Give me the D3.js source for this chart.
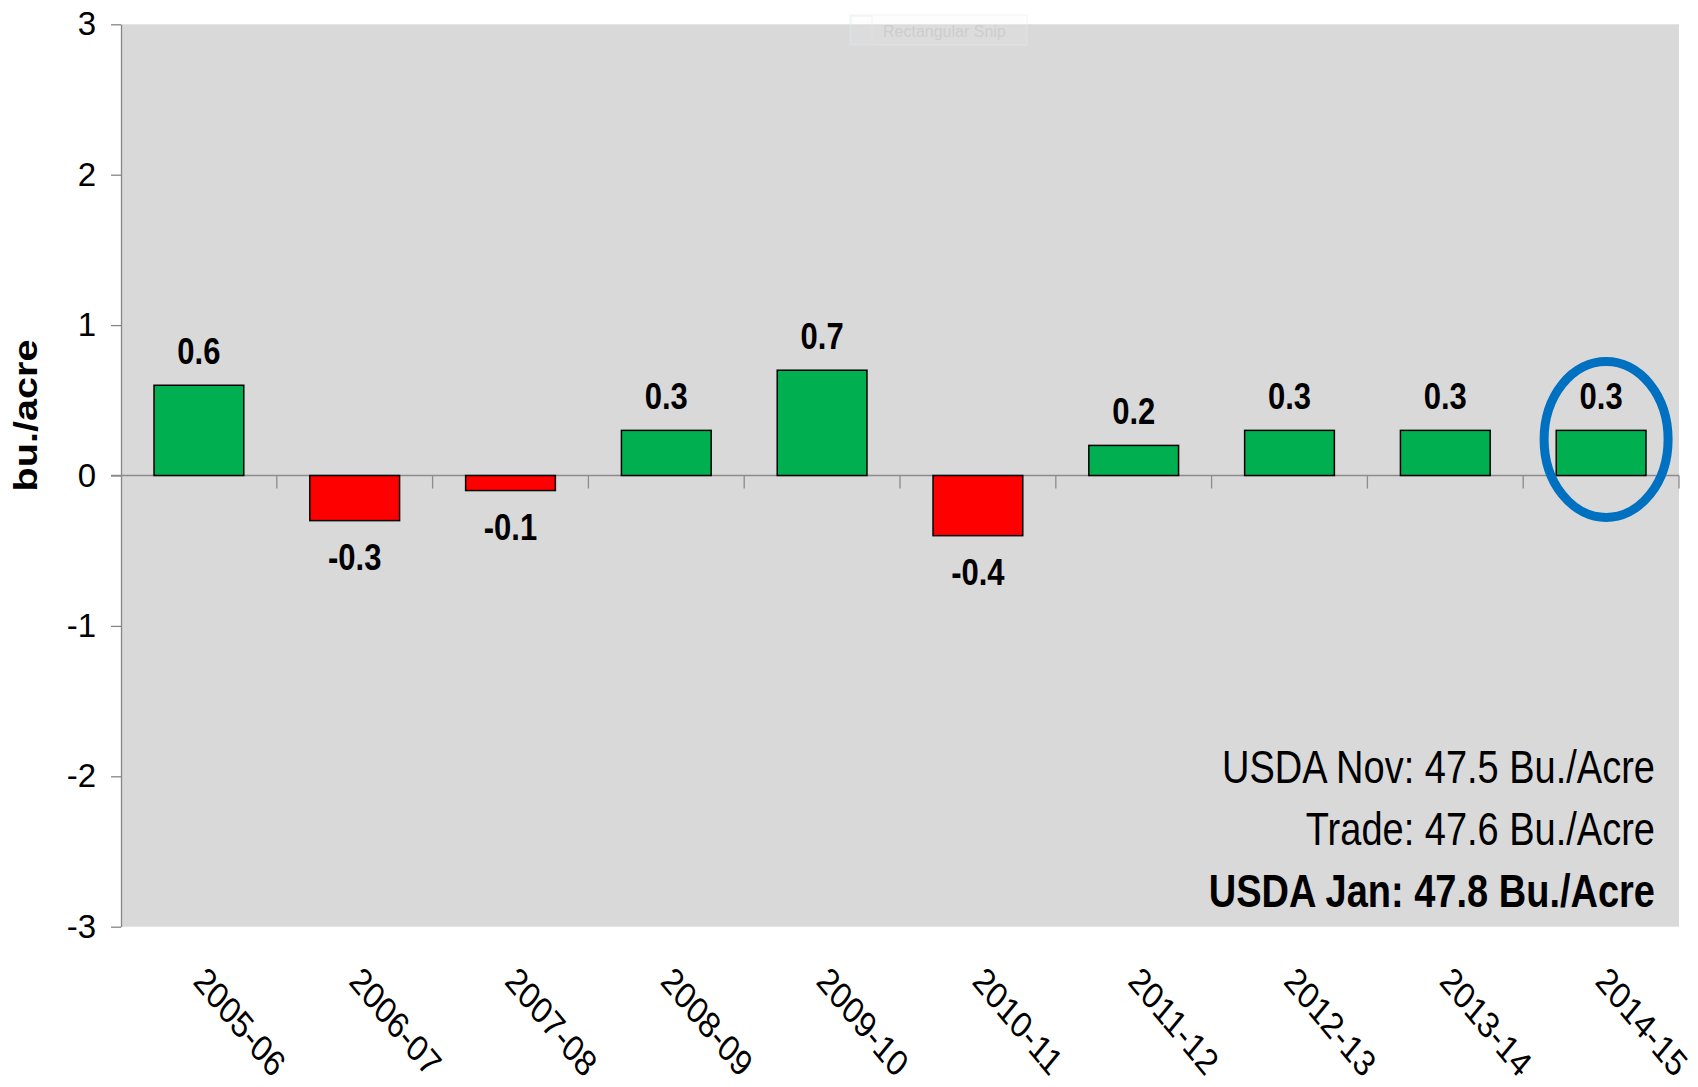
<!DOCTYPE html>
<html>
<head>
<meta charset="utf-8">
<script src="https://cdn.jsdelivr.net/npm/d3@7"></script>
<style>
  body { margin: 0; background: #fff; }
  svg { display: block; font-family: "Liberation Sans", Arial, sans-serif; }
</style>
</head>
<body>
<svg id="chart"></svg>
<script>
// Soybean yield change, USDA Jan vs Nov estimate (bu./acre)
const seasons = ['2005-06', '2006-07', '2007-08', '2008-09', '2009-10', '2010-11', '2011-12', '2012-13', '2013-14', '2014-15'];
const yieldChange = [0.6, -0.3, -0.1, 0.3, 0.7, -0.4, 0.2, 0.3, 0.3, 0.3];
const yTickValues = [-3, -2, -1, 0, 1, 2, 3];
const estimateLines = ['USDA Nov: 47.5 Bu./Acre', 'Trade: 47.6 Bu./Acre', 'USDA Jan: 47.8 Bu./Acre'];
const boldEstimate = 'USDA Jan: 47.8 Bu./Acre';
const highlightSeason = '2014-15';

class YieldChangeChart {
  constructor(_config, _data) {
    this.config = {
      parentElement: _config.parentElement,
      containerWidth: _config.containerWidth || 1698,
      containerHeight: _config.containerHeight || 1087,
      margin: _config.margin || { top: 24.3, right: 19, bottom: 160.3, left: 121 },
      stretch: _config.stretch || 1.2 // the source picture is stretched vertically
    }
    this.data = _data;
    this.initVis();
  }

  initVis() {
    let vis = this;

    vis.width = vis.config.containerWidth - vis.config.margin.left - vis.config.margin.right;
    vis.height = vis.config.containerHeight - vis.config.margin.top - vis.config.margin.bottom;

    vis.xScale = d3.scaleBand()
      .domain(seasons)
      .range([0, vis.width])
      .paddingInner(0.424)
      .paddingOuter(0.212);

    vis.yScale = d3.scaleLinear()
      .domain([-3, 3])
      .range([vis.height, 0]);

    vis.svg = d3.select(vis.config.parentElement)
      .attr('width', vis.config.containerWidth)
      .attr('height', vis.config.containerHeight);

    vis.chart = vis.svg.append('g')
      .attr('transform', `translate(${vis.config.margin.left},${vis.config.margin.top})`);

    // plot background
    vis.chart.append('rect')
      .attr('width', vis.width)
      .attr('height', vis.height)
      .attr('fill', '#d9d9d9');

    // faint screenshot leftover at the top
    const snip = vis.svg.append('g').attr('opacity', 0.55);
    snip.append('rect')
      .attr('x', 850).attr('y', 15).attr('width', 177).attr('height', 30)
      .attr('fill', '#f4f6f8').attr('fill-opacity', 0.25)
      .attr('stroke', '#e6ecf2');
    snip.append('rect')
      .attr('x', 851).attr('y', 16).attr('width', 21).attr('height', 28)
      .attr('fill', 'none').attr('stroke', '#e0e6ee');
    snip.append('text')
      .attr('x', 883).attr('y', 37)
      .attr('font-size', 16)
      .attr('fill', '#c4c4c4')
      .text('Rectangular Snip');

    vis.yAxis = d3.axisLeft(vis.yScale)
      .tickValues(yTickValues)
      .tickSize(10)
      .tickSizeOuter(0)
      .tickPadding(15)
      .tickFormat(d => String(d));

    vis.xAxis = d3.axisBottom(vis.xScale)
      .tickSize(0)
      .tickSizeOuter(0);

    vis.yAxisGroup = vis.chart.append('g').attr('class', 'axis y-axis');
    vis.xAxisGroup = vis.chart.append('g').attr('class', 'axis x-axis')
      .attr('transform', `translate(0,${vis.height})`);

    vis.svg.append('text')
      .attr('class', 'axis-title')
      .attr('transform', `translate(37,${vis.config.margin.top + vis.height / 2 - 60}) scale(1,${vis.config.stretch}) rotate(-90)`)
      .attr('text-anchor', 'middle')
      .attr('font-size', 33)
      .attr('font-weight', 'bold')
      .attr('fill', '#000')
      .text('bu./acre');
  }

  renderVis() {
    let vis = this;
    const k = vis.config.stretch;
    const y0 = vis.yScale(0);

    vis.yAxisGroup.call(vis.yAxis);
    vis.yAxisGroup.select('.domain').attr('stroke', '#868686').attr('stroke-width', 1.3);
    vis.yAxisGroup.selectAll('.tick line').attr('stroke', '#868686').attr('stroke-width', 1.3);
    vis.yAxisGroup.selectAll('.tick text')
      .attr('font-size', 33)
      .attr('fill', '#000')
      .attr('font-family', '"Liberation Sans", Arial, sans-serif');

    // zero line with category boundary ticks
    vis.chart.append('line')
      .attr('x1', -10).attr('x2', vis.width)
      .attr('y1', y0).attr('y2', y0)
      .attr('stroke', '#8c8c8c').attr('stroke-width', 1.5);

    const halfGap = vis.xScale.step() * vis.xScale.paddingInner() / 2;
    vis.chart.selectAll('.cat-tick')
      .data(seasons)
      .join('line')
      .attr('class', 'cat-tick')
      .attr('x1', d => vis.xScale(d) + vis.xScale.bandwidth() + halfGap)
      .attr('x2', d => vis.xScale(d) + vis.xScale.bandwidth() + halfGap)
      .attr('y1', y0).attr('y2', y0 + 13)
      .attr('stroke', '#8c8c8c').attr('stroke-width', 1.3);

    // bars
    vis.chart.selectAll('.bar')
      .data(vis.data)
      .join('rect')
      .attr('class', 'bar')
      .attr('x', d => vis.xScale(d.season))
      .attr('y', d => vis.yScale(Math.max(0, d.value)))
      .attr('width', vis.xScale.bandwidth())
      .attr('height', d => Math.abs(vis.yScale(d.value) - y0))
      .attr('fill', d => d.value >= 0 ? '#00b050' : '#ff0000')
      .attr('stroke', '#000')
      .attr('stroke-width', 1.5);

    // value labels
    vis.chart.selectAll('.bar-label')
      .data(vis.data)
      .join('text')
      .attr('class', 'bar-label')
      .attr('transform', d => {
        const cx = vis.xScale(d.season) + vis.xScale.bandwidth() / 2;
        const ty = d.value >= 0 ? vis.yScale(d.value) - 21 : vis.yScale(d.value) + 49;
        return `translate(${cx},${ty}) scale(1,${k})`;
      })
      .attr('text-anchor', 'middle')
      .attr('font-size', 31)
      .attr('font-weight', 'bold')
      .attr('fill', '#000')
      .text(d => d.value.toFixed(1));

    // highlight ring on the latest season
    vis.chart.append('ellipse')
      .attr('cx', vis.xScale(highlightSeason) + vis.xScale.bandwidth() / 2 + 5)
      .attr('cy', vis.yScale(0.24))
      .attr('rx', 62)
      .attr('ry', 78)
      .attr('fill', 'none')
      .attr('stroke', '#0070c0')
      .attr('stroke-width', 9);

    // x labels, rotated
    vis.xAxisGroup.call(vis.xAxis);
    vis.xAxisGroup.select('.domain').remove();
    vis.xAxisGroup.selectAll('.tick text')
      .attr('x', 0).attr('y', 0).attr('dy', 0)
      .attr('transform', `translate(-7,56) scale(1,${k}) rotate(45)`)
      .attr('text-anchor', 'start')
      .attr('font-size', 31)
      .attr('fill', '#000')
      .attr('font-family', '"Liberation Sans", Arial, sans-serif');

    // estimates text box
    vis.chart.selectAll('.estimate')
      .data(estimateLines)
      .join('text')
      .attr('class', 'estimate')
      .attr('transform', (d, i) => `translate(${vis.width - 24},${vis.height - 143.4 + i * 61.7}) scale(1,${k})`)
      .attr('text-anchor', 'end')
      .attr('font-size', 38)
      .attr('font-weight', d => d === boldEstimate ? 'bold' : 'normal')
      .attr('fill', '#000')
      .text(d => d);
  }
}

const chartData = seasons.map((s, i) => ({ season: s, value: yieldChange[i] }));
const yieldChart = new YieldChangeChart({ parentElement: '#chart' }, chartData);
yieldChart.renderVis();
</script>
</body>
</html>
